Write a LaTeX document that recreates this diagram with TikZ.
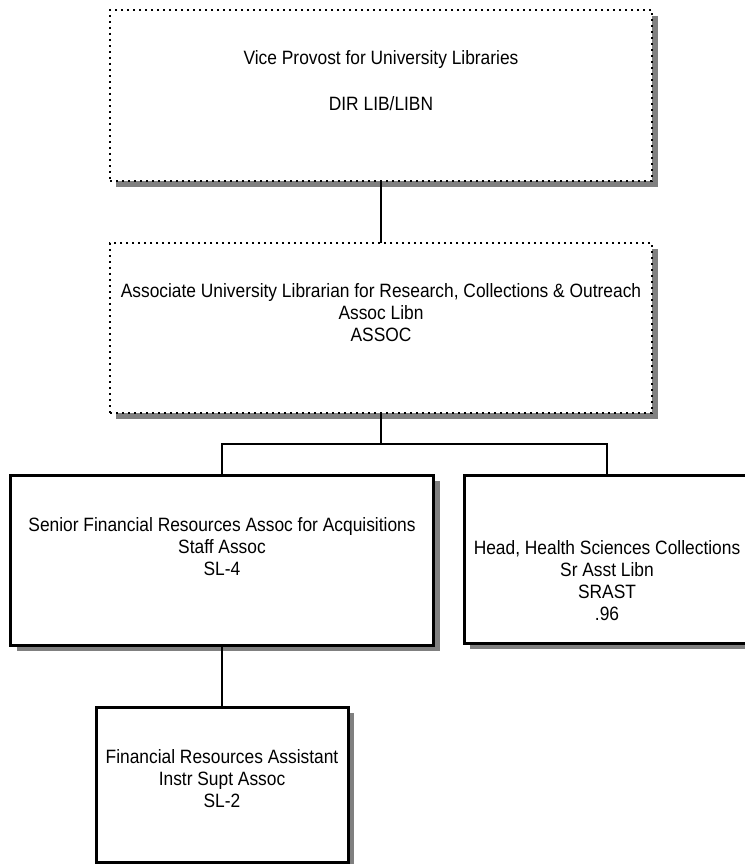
\documentclass[tikz,border=0pt]{standalone}
\usepackage{fontspec}
\setmainfont{Liberation Sans}[FakeStretch=0.9]
\usetikzlibrary{shadows}
\begin{document}
\begin{tikzpicture}[x=1pt,y=-1pt,
  shad/.style={drop shadow={shadow xshift=6pt,shadow yshift=-6pt,fill=black!50,opacity=1}},
  dotbox/.style={draw=black,fill=white,line width=2.3pt,dash pattern=on 2.3pt off 3.7pt,shad,inner sep=0pt,outer sep=0pt},
  solidbox/.style={draw=black,fill=white,line width=3pt,shad,inner sep=0pt,outer sep=0pt},
  txt/.style={align=center,font=\fontsize{19.3}{22}\selectfont,inner sep=0pt},
  conn/.style={draw=black,line width=2.8pt}]
\useasboundingbox[fill=white] (0,0) rectangle (744,864);
% boxes
\node[dotbox,minimum width=542pt,minimum height=171pt] (b1) at (381,95.5) {};
\node[dotbox,minimum width=542pt,minimum height=170pt] (b2) at (381,328) {};
\node[solidbox,minimum width=423pt,minimum height=170pt] (b3) at (222,560) {};
\node[solidbox,minimum width=286pt,minimum height=168pt] (b4) at (607,559) {};
\node[solidbox,minimum width=252pt,minimum height=155pt] (b5) at (222,784.5) {};
% texts
\node[txt] (t1a) at (381,60) {Vice Provost for University Libraries};
\node[txt] (t1b) at (381,104) {DIR LIB/LIBN};
\node[txt] (t2) at (381,313) {Associate University Librarian for Research, Collections \& Outreach\\Assoc Libn\\ASSOC};
\node[txt] (t3) at (222,547) {Senior Financial Resources Assoc for Acquisitions\\Staff Assoc\\SL-4};
\node[txt] (t4) at (607,580.5) {Head, Health Sciences Collections\\Sr Asst Libn\\SRAST\\.96};
\node[txt] (t5) at (222,779) {Financial Resources Assistant\\Instr Supt Assoc\\SL-2};
% connectors
\coordinate (j) at (381,444);
\draw[conn] (b1.south) -- (b2.north);
\draw[conn] (b2.south) -- (j);
\draw[conn] (j) -| (b3.north);
\draw[conn] (j) -| (b4.north);
\draw[conn] (b3.south) -- (b5.north);
\end{tikzpicture}
\end{document}
